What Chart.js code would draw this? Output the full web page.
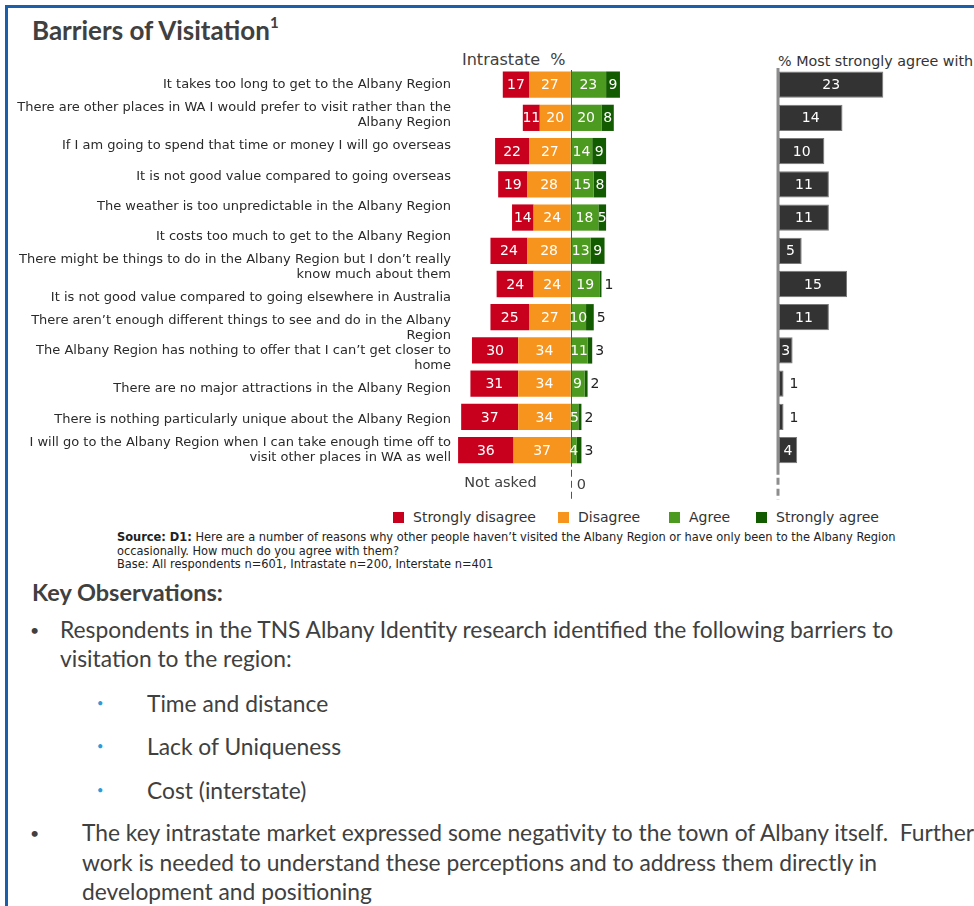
<!DOCTYPE html>
<html>
<head>
<meta charset="utf-8">
<script src="https://cdn.jsdelivr.net/npm/chart.js@4.4.1/dist/chart.umd.min.js"></script>
<style>
html,body{margin:0;padding:0;background:#fff;}
body{width:974px;height:906px;overflow:hidden;position:relative;font-family:"DejaVu Sans",sans-serif;}
#frame{position:absolute;left:5px;top:5px;width:1200px;height:1200px;border-left:3px solid #1B5EAA;border-top:3px solid #1B5EAA;}
.abs{position:absolute;white-space:nowrap;}
#title{left:32px;top:14px;line-height:34px;font:bold 26px Lato,sans-serif;color:#404040;}
#title sup{font-size:15px;position:relative;top:-2px;}
#hdr1{left:462px;top:50px;line-height:20px;font-size:16px;color:#404040;}
#hdr2{left:778px;top:51px;line-height:20px;font-size:14.3px;color:#333;}
#c1{position:absolute;left:0;top:68px;width:640px;height:432px;}
#c2{position:absolute;left:770px;top:68px;width:204px;height:432px;}
.lg{position:absolute;top:508px;line-height:18px;font-size:14px;color:#333;white-space:nowrap;}
.lg i{position:absolute;left:-20px;top:4px;width:11px;height:11px;}
#src{left:117px;top:530px;line-height:13.5px;font-family:"DejaVu Sans Condensed","DejaVu Sans",sans-serif;font-size:12.7px;color:#222;}
#ko{left:32px;top:578px;line-height:28px;font:bold 23.5px Lato,sans-serif;color:#404040;}
.bt{font-family:Lato,sans-serif;font-size:22.8px;color:#404040;}
.dot{font-family:Lato,sans-serif;font-size:16px;color:#404040;}
.sdot{font-family:Lato,sans-serif;font-size:11px;color:#2E9BD6;}
</style>
</head>
<body>
<div id="frame"></div>
<div id="title" class="abs">Barriers of Visitation<sup>1</sup></div>
<div id="hdr1" class="abs">Intrastate&nbsp;&nbsp;%</div>
<div id="hdr2" class="abs">% Most strongly agree with</div>
<canvas id="c1" width="640" height="432"></canvas>
<canvas id="c2" width="204" height="432"></canvas>
<div id="legend"></div>
<div id="src" class="abs"><b>Source: D1:</b> Here are a number of reasons why other people haven’t visited the Albany Region or have only been to the Albany Region<br>occasionally. How much do you agree with them?<br>Base: All respondents n=601, Intrastate n=200, Interstate n=401</div>
<div id="ko" class="abs">Key Observations:</div>
<div class="abs dot" style="left:30px;top:615px;line-height:30px;">•</div>
<div class="abs bt" style="left:60px;top:615px;line-height:29px;">Respondents in the TNS Albany Identity research identified the following barriers to<br>visitation to the region:</div>
<div class="abs sdot" style="left:97px;top:690px;line-height:26px;">•</div>
<div class="abs bt" style="left:147px;top:688px;line-height:30px;">Time and distance</div>
<div class="abs sdot" style="left:97px;top:733px;line-height:26px;">•</div>
<div class="abs bt" style="left:147px;top:731px;line-height:30px;">Lack of Uniqueness</div>
<div class="abs sdot" style="left:97px;top:777px;line-height:26px;">•</div>
<div class="abs bt" style="left:147px;top:775px;line-height:30px;">Cost (interstate)</div>
<div class="abs dot" style="left:30px;top:818px;line-height:29.5px;">•</div>
<div class="abs bt" style="left:82px;top:818px;line-height:29.5px;">The key intrastate market expressed some negativity to the town of Albany itself.&nbsp; Further<br>work is needed to understand these perceptions and to address them directly in<br>development and positioning</div>
<script>
// ---- data ----
const statements = [
  'It takes too long to get to the Albany Region',
  ['There are other places in WA I would prefer to visit rather than the', 'Albany Region'],
  'If I am going to spend that time or money I will go overseas',
  'It is not good value compared to going overseas',
  'The weather is too unpredictable in the Albany Region',
  'It costs too much to get to the Albany Region',
  ['There might be things to do in the Albany Region but I don’t really', 'know much about them'],
  'It is not good value compared to going elsewhere in Australia',
  ['There aren’t enough different things to see and do in the Albany', 'Region'],
  ['The Albany Region has nothing to offer that I can’t get closer to', 'home'],
  'There are no major attractions in the Albany Region',
  'There is nothing particularly unique about the Albany Region',
  ['I will go to the Albany Region when I can take enough time off to', 'visit other places in WA as well']
];
const seriesNames = ['Strongly disagree', 'Disagree', 'Agree', 'Strongly agree'];
const strongDisagree = [17, 11, 22, 19, 14, 24, 24, 25, 30, 31, 37, 36];
const disagree       = [27, 20, 27, 28, 24, 28, 24, 27, 34, 34, 34, 37];
const agree          = [23, 20, 14, 15, 18, 13, 19, 10, 11,  9,  5,  4];
const strongAgree    = [ 9,  8,  9,  8,  5,  9,  1,  5,  3,  2,  2,  3];
const mostStronglyAgree = [23, 14, 10, 11, 11, 5, 15, 11, 3, 1, 1, 4];
const notAskedLabel = 'Not asked';
const notAskedValue = 0;

const colors = {sd:'#C8001E', d:'#F7941D', a:'#4C9A1F', sa:'#135B00', most:'#333333'};

const barRows = strongDisagree.map((_, i) => 'Bar ' + (i + 1)).concat([notAskedLabel]);
const withGap = arr => arr.concat([null]);

// legend (HTML, in source order)
const legendPos = [413, 578, 689, 776];
const legendCols = [colors.sd, colors.d, colors.a, colors.sa];
document.getElementById('legend').innerHTML = seriesNames.map((n, i) =>
  `<div class="lg" style="left:${legendPos[i]}px"><i style="background:${legendCols[i]}"></i>${n}</div>`).join('');

const valueFont = '14px "DejaVu Sans"';

// ---- plugins ----
const divergingLabels = {
  id: 'divergingLabels',
  afterDatasetsDraw(chart) {
    const ctx = chart.ctx;
    const xS = chart.scales.x, yS = chart.scales.yBars;
    const x0 = xS.getPixelForValue(0);
    const area = chart.chartArea;
    const lastBarY = yS.getPixelForValue(strongDisagree.length - 1);
    const rowH = yS.getPixelForValue(1) - yS.getPixelForValue(0);
    const solidEnd = lastBarY + rowH / 2;
    ctx.save();
    // zero line
    ctx.strokeStyle = '#555';
    ctx.lineWidth = 1;
    ctx.beginPath();
    ctx.moveTo(Math.round(x0) + 0.5, area.top + 2);
    ctx.lineTo(Math.round(x0) + 0.5, solidEnd);
    ctx.stroke();
    ctx.setLineDash([7, 4]);
    ctx.beginPath();
    ctx.moveTo(Math.round(x0) + 0.5, solidEnd + 3);
    ctx.lineTo(Math.round(x0) + 0.5, area.bottom);
    ctx.stroke();
    ctx.setLineDash([]);
    // values
    ctx.font = valueFont;
    ctx.textBaseline = 'middle';
    chart.data.datasets.forEach((ds, di) => {
      const meta = chart.getDatasetMeta(di);
      meta.data.forEach((el, i) => {
        const v = ds.data[i];
        if (v == null) return;
        const val = Math.abs(v);
        const outside = ds.key === 'sa' && (val <= 3 || agree[i] <= 11);
        if (outside) {
          ctx.fillStyle = '#222';
          ctx.textAlign = 'left';
          ctx.fillText(String(val), Math.max(el.x, el.base) + 3, el.y + 1);
        } else {
          ctx.fillStyle = '#fff';
          ctx.textAlign = 'center';
          ctx.fillText(String(val), (el.x + el.base) / 2, el.y + 1);
        }
      });
    });
    // Not asked row
    const yy = yS.getPixelForValue(barRows.length - 1);
    ctx.fillStyle = '#404040';
    ctx.font = '14.5px "DejaVu Sans"';
    ctx.textAlign = 'right';
    ctx.fillText(notAskedLabel, x0 - 34, yy);
    ctx.textAlign = 'left';
    ctx.fillText(String(notAskedValue), x0 + 6, yy + 2);
    ctx.restore();
  }
};

const rightAxisAndLabels = {
  id: 'rightAxisAndLabels',
  beforeDatasetsDraw(chart) {
    const ctx = chart.ctx;
    const area = chart.chartArea;
    const yS = chart.scales.y;
    const rowH = yS.getPixelForValue(1) - yS.getPixelForValue(0);
    const solidEnd = yS.getPixelForValue(mostStronglyAgree.length - 1) + rowH / 2 + 8;
    const x = area.left - 1;
    ctx.save();
    ctx.strokeStyle = '#8d8d8d';
    ctx.lineWidth = 3;
    ctx.beginPath();
    ctx.moveTo(x, area.top);
    ctx.lineTo(x, solidEnd);
    ctx.stroke();
    ctx.setLineDash([7, 4]);
    ctx.beginPath();
    ctx.moveTo(x, solidEnd + 3);
    ctx.lineTo(x, area.bottom);
    ctx.stroke();
    ctx.restore();
  },
  afterDatasetsDraw(chart) {
    const ctx = chart.ctx;
    ctx.save();
    ctx.font = valueFont;
    ctx.textBaseline = 'middle';
    const meta = chart.getDatasetMeta(0);
    meta.data.forEach((el, i) => {
      const v = chart.data.datasets[0].data[i];
      if (v == null) return;
      if (v <= 1) {
        ctx.fillStyle = '#222';
        ctx.textAlign = 'left';
        ctx.fillText(String(v), el.x + 6, el.y + 1);
      } else {
        ctx.fillStyle = '#fff';
        ctx.textAlign = 'center';
        ctx.fillText(String(v), (el.x + el.base) / 2, el.y + 1);
      }
    });
    ctx.restore();
  }
};

// ---- chart 1: diverging stacked bars ----
const barCommon = {borderWidth: 0, borderSkipped: false, categoryPercentage: 1, barPercentage: 0.79, xAxisID: 'x', yAxisID: 'yBars', stack: 's'};
new Chart(document.getElementById('c1'), {
  type: 'bar',
  data: {
    labels: barRows,
    datasets: [
      Object.assign({key: 'd', label: seriesNames[1], data: withGap(disagree.map(v => -v)), backgroundColor: colors.d}, barCommon),
      Object.assign({key: 'sd', label: seriesNames[0], data: withGap(strongDisagree.map(v => -v)), backgroundColor: colors.sd}, barCommon),
      Object.assign({key: 'a', label: seriesNames[2], data: withGap(agree), backgroundColor: colors.a}, barCommon),
      Object.assign({key: 'sa', label: seriesNames[3], data: withGap(strongAgree), backgroundColor: colors.sa}, barCommon)
    ]
  },
  options: {
    indexAxis: 'y',
    responsive: false,
    animation: false,
    layout: {padding: 0},
    plugins: {legend: {display: false}, tooltip: {enabled: false}},
    scales: {
      x: {type: 'linear', display: false, min: -75, max: 45, stacked: true},
      yBars: {type: 'category', display: false, stacked: true, offset: true, position: 'left'},
      yText: {
        type: 'linear', position: 'left', reverse: true, offset: false, min: -0.556, max: 13.65,
        grid: {display: false, drawTicks: false, offset: false}, border: {display: false},
        afterBuildTicks: s => { s.ticks = statements.map((_, i) => ({value: i})); },
        afterFit: s => { s.width = 455; s.paddingTop = 0; s.paddingBottom = 0; s.paddingLeft = 0; s.paddingRight = 0; },
        ticks: {
          autoSkip: false, padding: 4, color: '#2a2a2a',
          font: {family: 'DejaVu Sans', size: 13, lineHeight: 1.15},
          callback: v => statements[v]
        }
      }
    }
  },
  plugins: [divergingLabels]
});

// ---- chart 2: most strongly agree ----
new Chart(document.getElementById('c2'), {
  type: 'bar',
  data: {
    labels: barRows,
    datasets: [{
      label: '% Most strongly agree with',
      data: withGap(mostStronglyAgree),
      backgroundColor: colors.most, borderColor: '#7a7a7a', borderWidth: 1, borderSkipped: false,
      categoryPercentage: 1, barPercentage: 0.79
    }]
  },
  options: {
    indexAxis: 'y',
    responsive: false,
    animation: false,
    layout: {padding: {left: 9, right: 0, top: 0, bottom: 0}},
    plugins: {legend: {display: false}, tooltip: {enabled: false}},
    scales: {
      x: {type: 'linear', display: false, min: 0, max: 43},
      y: {type: 'category', display: false, offset: true}
    }
  },
  plugins: [rightAxisAndLabels]
});
</script>
</body>
</html>
